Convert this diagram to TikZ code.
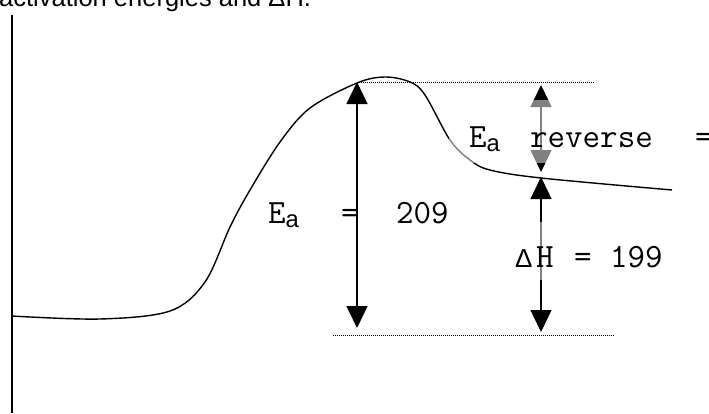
\documentclass[tikz,border=0pt]{standalone}
\usepackage{fontspec}
\setmainfont{Liberation Sans}
\newfontfamily\symfont{Liberation Sans}
\usetikzlibrary{arrows.meta}
\newcommand{\lowsub}[1]{\textsubscript{\symfont #1}}
\newcommand{\cell}[2]{\makebox[#1][l]{#2}}

\begin{document}
\begin{tikzpicture}[x=1pt,y=-1pt,
 lbl/.style={font=\ttfamily\fontsize{34}{38}\selectfont,inner sep=0pt,anchor=base west},
 veil/.style={fill=white,fill opacity=0.5,text opacity=1},
 arr/.style={{Triangle[width=21pt,length=22pt]}-{Triangle[width=21pt,length=22pt]},line width=1.4pt},
 guide/.style={dash pattern=on 1pt off 1pt,line width=0.8pt}
]
\useasboundingbox (0,0) rectangle (709,413);
\node[anchor=base west,inner sep=0pt,font=\fontsize{25.5}{30}\selectfont] (title) at (-1,6) {activation energies and ΔH.};
\coordinate (axtop) at (12,15); \coordinate (axbot) at (12,413);
\coordinate (peak) at (357,82); \coordinate (reacL) at (357,328);
\coordinate (topR) at (541,85); \coordinate (prodA) at (541,172); \coordinate (prodB) at (541,177); \coordinate (reacR) at (541,332);
\coordinate (hiA) at (357,82); \coordinate (hiB) at (595,82);
\coordinate (loA) at (333,335); \coordinate (loB) at (615,335);
\draw[line width=1.4pt] (axtop)--(axbot);
\draw[line width=1.4pt] plot[smooth,tension=0.55] coordinates {(12,316) (100,319) (170,311) (205,282) (230,227) (250,190) (280,142) (310,108) (357,83) (385,77) (410,82) (425,95) (450,140) (470,160) (490,170) (541,178) (672,190)};
\draw[guide] (hiA)--(hiB); \draw[guide] (loA)--(loB);
\draw[arr] (peak)--(reacL); \draw[arr] (topR)--(prodA); \draw[arr] (prodB)--(reacR);
\node[lbl] (ea) at (268,223) {\cell{73pt}{E\lowsub{a}}\cell{55pt}{=}209};
\node[lbl,veil,inner xsep=20pt,text height=47pt,text depth=16pt] (earev) at (449,147) {\cell{61pt}{E\lowsub{a}}\cell{165pt}{reverse}=};
\node[lbl,veil,inner xsep=2pt,text height=45pt,text depth=13pt] (dh) at (513,267) {\cell{21pt}{\symfont\fontsize{26}{30}\selectfont Δ}\cell{38pt}{H}\cell{36pt}{=}199};
\end{tikzpicture}
\end{document}
